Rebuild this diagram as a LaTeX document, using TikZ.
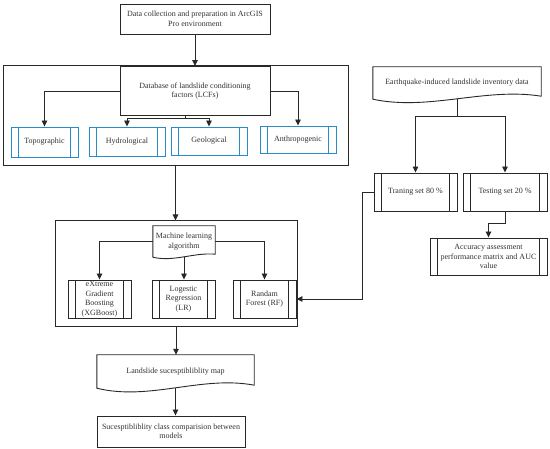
\documentclass[tikz,border=0pt]{standalone}
\usepackage{fontspec}
\setmainfont{Liberation Serif}
\usetikzlibrary{arrows.meta,calc}
\definecolor{lcol}{RGB}{40,40,40}
\definecolor{tcol}{RGB}{50,50,50}
\definecolor{bcol}{RGB}{40,140,200}
\newcommand\docwave[2]{%
  \draw[line] (#1.north west) -- (#1.north east) -- ($(#1.south east)+(0,-3)$)
    .. controls ($(#1.south east)!0.333!(#1.south west)+(0,-#2)$)
    and ($(#1.south east)!0.667!(#1.south west)+(0,#2)$) .. (#1.south west) -- cycle;}
\begin{document}
\begin{tikzpicture}[x=1pt,y=-1pt,
  line/.style={draw=lcol, line width=0.9pt},
  container/.style={draw=lcol, line width=1pt, rectangle, inner sep=0pt},
  box/.style={line, rectangle, inner sep=1pt, font=\fontsize{8}{9.5}\selectfont, text=tcol, align=center},
  docnode/.style={rectangle, inner sep=1pt, font=\fontsize{8}{9.5}\selectfont, text=tcol, align=center},
  sub/.style={box, draw=#1, path picture={
      \draw[#1, line width=0.9pt] ([xshift=7.5pt]path picture bounding box.north west) -- ([xshift=7.5pt]path picture bounding box.south west);
      \draw[#1, line width=0.9pt] ([xshift=-7.5pt]path picture bounding box.north east) -- ([xshift=-7.5pt]path picture bounding box.south east);}},
  sub/.default=lcol,
  arr/.style={line, -{Triangle[length=6pt,width=5.5pt]}}]
\useasboundingbox (0,0) rectangle (550,449);
% containers
\node[container, minimum width=345pt, minimum height=100pt] (lcfbox) at (175.5,116) {};
\node[container, minimum width=242pt, minimum height=106pt] (mlbox) at (176,274) {};
% left column
\node[box, minimum width=150pt, minimum height=30pt] (data) at (195,19) {Data collection and preparation in ArcGIS\\Pro environment};
\node[box, fill=white, minimum width=150pt, minimum height=49pt] (db) at (195,91) {Database of landslide conditioning\\factors (LCFs)};
\node[sub=bcol, minimum width=67pt, minimum height=30pt] (topo) at (44.5,142) {Topographic};
\node[sub=bcol, minimum width=76pt, minimum height=29pt] (hydro) at (127,141.5) {Hydrological};
\node[sub=bcol, minimum width=76pt, minimum height=28pt] (geo) at (209,141) {Geological};
\node[sub=bcol, minimum width=76pt, minimum height=27pt] (anthro) at (298,139.5) {Anthropogenic};
% ML
\node[docnode, minimum width=62pt, minimum height=31pt] (ml) at (184,241.5) {Machine learning\\algorithm};
\docwave{ml}{5}
\node[sub, minimum width=63pt, minimum height=38pt] (xgb) at (99.5,299) {eXtreme\\Gradient\\Boosting\\(XGBoost)};
\node[sub, minimum width=63pt, minimum height=38pt] (lr) at (183.5,299) {Logestic\\Regression\\(LR)};
\node[sub, minimum width=63pt, minimum height=38pt] (rf) at (264.5,299) {Randam\\Forest (RF)};
% map
\node[docnode, minimum width=157pt, minimum height=33pt] (map) at (175.5,371.5) {Landslide sucesptibliblity map};
\docwave{map}{13}
\node[box, minimum width=148pt, minimum height=31pt] (final) at (171,431.5) {Sucesptibliblity class comparision between\\models};
% right column
\node[docnode, minimum width=168pt, minimum height=32pt] (eq) at (457,83) {Earthquake-induced landslide inventory data};
\docwave{eq}{12}
\node[sub, minimum width=83pt, minimum height=38pt] (train) at (415.5,192) {Traning set 80 \%};
\node[sub, minimum width=84pt, minimum height=38pt] (test) at (505,192) {Testing set 20 \%};
\node[sub, minimum width=117pt, minimum height=37pt] (acc) at (488.5,256.5) {Accuracy assessment\\performance matrix and AUC\\value};
% connectors
\draw[arr] (data) -- (db);
\draw[arr] (db.west) -| (topo.north);
\draw[arr] (db.east) -| (anthro.north);
\draw[line] ([xshift=-10pt]db.south) -- ++(0,3) coordinate (dbs);
\draw[arr] (dbs) -| (hydro.north);
\draw[arr] (dbs) -| (geo.north);
\draw[arr] (lcfbox.south) -- (lcfbox.south |- mlbox.north);
\draw[arr] (ml.west) -| (xgb.north);
\draw[arr] (ml.east) -| (rf.north);
\draw[arr] (ml.south) -- (ml.south |- lr.north);
\draw[arr] (mlbox.south) -- (mlbox.south |- map.north);
\draw[arr] (map.south) -- (map.south |- final.north);
\draw[line] (eq.south) -- ++(0,17) coordinate (eqs);
\draw[arr] (eqs) -| (train.north);
\draw[arr] (eqs) -| (test.north);
\draw[arr] (test.south) -- ++(0,12) -| (acc.north);
\draw[arr] (train.west) -- ++(-11,0) |- (rf.east);
\end{tikzpicture}
\end{document}
